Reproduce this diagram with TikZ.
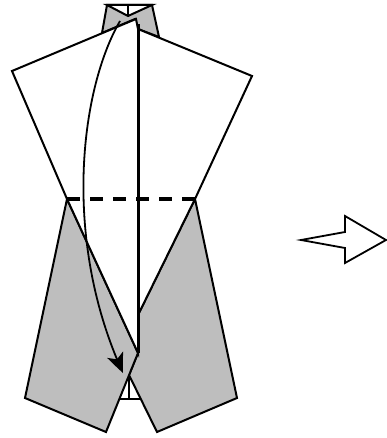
\documentclass[tikz,border=0pt]{standalone}
\usepackage{xcolor}
\usepackage{tikz}
\usetikzlibrary{arrows.meta,bending}
\definecolor{papergray}{HTML}{BEBEBE}
\tikzset{edge/.style={line width=2pt,line join=miter},
  foldline/.style={line width=3.2pt,dash pattern=on 13pt off 10pt}}
\begin{document}
\begin{tikzpicture}[x=1pt,y=-1pt]
\useasboundingbox (0,0) rectangle (387,438);
% collar
\draw[edge,fill=papergray] (107,5) -- (152,5) -- (159,37) -- (138,29) -- (135,19) -- (102,33) -- cycle;
\draw[edge,fill=white] (107,5) -- (152,5) -- (128,16) -- cycle;
\draw[line width=1.3pt] (128,5) -- (128,16);
% small piece at the bottom
\draw[edge] (119,399) -- (141,399);
\draw[line width=1.3pt] (129,375) -- (129,399);
% grey flaps
\draw[edge,fill=papergray] (195,199) -- (237,398) -- (157,432) -- (129,375) -- (138,353) -- (138,315) -- cycle;
\draw[edge,fill=papergray] (67,199) -- (25,398) -- (106,432) -- (138,353) -- cycle;
% white flaps
\draw[edge,fill=white] (138,29) -- (252,76) -- (195,199) -- (138,315) -- cycle;
\draw[edge,fill=white] (136,19) -- (12,71) -- (67,199) -- (138,353) -- (138,29) -- cycle;
\draw[line width=3pt] (138,24) -- (138,353);
\draw[foldline] (67,199) -- (195,199);
% arrows
\draw[line width=1.8pt,-{Stealth[length=20pt,width=17pt,inset=5pt,bend]}] (120,21) .. controls (80,90) and (62,240) .. (123,373);
\draw[line width=1.8pt,line join=miter] (301,240) -- (345,232) -- (345,216) -- (386,240) -- (345,263) -- (345,248) -- cycle;
\end{tikzpicture}
\end{document}
